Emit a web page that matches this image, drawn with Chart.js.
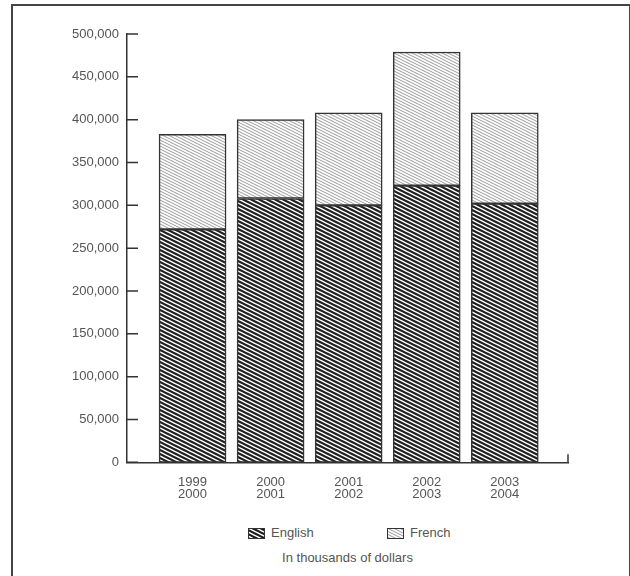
<!DOCTYPE html>
<html lang="en">
<head>
<meta charset="UTF-8">
<title>English and French spending</title>
<style>
    body {
        margin: 0;
        padding: 0;
        background: #fff;
        font-family: "Liberation Sans", Arial, sans-serif;
        color: #555;
    }
    .page {
        position: relative;
        width: 630px;
        height: 576px;
        overflow: hidden;
    }
    .frame {
        position: absolute;
        left: 11px;
        top: 4px;
        width: 616px;
        height: 600px;
        border: 2px solid #444;
        border-bottom: none;
    }
    .chart-box {
        position: absolute;
        left: 0;
        top: 0;
        width: 630px;
        height: 519px;
    }
    .legend-item {
        position: absolute;
        top: 526px;
        font-size: 13px;
        line-height: 14px;
        display: flex;
        align-items: center;
    }
    .legend-item canvas {
        margin-right: 6px;
    }
    .note {
        position: absolute;
        top: 551px;
        left: 127px;
        width: 441px;
        text-align: center;
        font-size: 13px;
        line-height: 14px;
    }
</style>
</head>
<body>
<div class="page">
    <div class="frame"></div>
    <div class="chart-box"><canvas id="chart"></canvas></div>
    <div class="legend-item" id="legEnglish" style="left:248px"></div>
    <div class="legend-item" id="legFrench" style="left:387px"></div>
    <div class="note">In thousands of dollars</div>
</div>
<script src="https://cdn.jsdelivr.net/npm/chart.js"></script>
<script>
// data (thousands of dollars)
const periods = [['1999', '2000'], ['2000', '2001'], ['2001', '2002'], ['2002', '2003'], ['2003', '2004']];
const english = [272000, 308000, 300000, 323000, 302000];
const french = [111000, 92000, 108000, 156000, 106000];
const seriesNames = ['English', 'French'];

// hatch patterns, lines falling to the right with slope 1/2
function hatch(w, h, bg, fg, lw) {
    const c = document.createElement('canvas');
    c.width = w;
    c.height = h;
    const g = c.getContext('2d');
    g.fillStyle = bg;
    g.fillRect(0, 0, w, h);
    g.strokeStyle = fg;
    g.lineWidth = lw;
    g.beginPath();
    for (let k = -3; k <= 3; k++) {
        g.moveTo(-w, k * h - w / 2);
        g.lineTo(2 * w, k * h + w);
    }
    g.stroke();
    return c;
}
const englishTile = hatch(8, 4, '#1e1e1e', '#ffffff', 1.5);
const frenchTile = hatch(6, 3, '#ffffff', '#9a9a9a', 1);

const ctx = document.getElementById('chart').getContext('2d');
const englishFill = ctx.createPattern(englishTile, 'repeat');
const frenchFill = ctx.createPattern(frenchTile, 'repeat');

// inward y ticks and the small mark at the end of the x axis
const axisMarks = {
    id: 'axisMarks',
    afterDraw(chart) {
        const c = chart.ctx;
        const y = chart.scales.y;
        const area = chart.chartArea;
        c.save();
        c.strokeStyle = '#333';
        c.lineWidth = 1.5;
        c.beginPath();
        y.ticks.forEach(t => {
            const py = y.getPixelForValue(t.value);
            c.moveTo(area.left, py);
            c.lineTo(area.left + 11, py);
        });
        c.moveTo(area.right, area.bottom);
        c.lineTo(area.right, area.bottom - 8);
        c.stroke();
        c.restore();
    }
};

const chart = new Chart(ctx, {
    type: 'bar',
    data: {
        datasets: [
            {
                label: seriesNames[0],
                data: english.map((v, i) => ({x: i, y: v})),
                backgroundColor: englishFill,
                borderColor: '#333',
                borderWidth: 1.5,
                borderSkipped: false,
                barThickness: 67
            },
            {
                label: seriesNames[1],
                data: french.map((v, i) => ({x: i, y: v})),
                backgroundColor: frenchFill,
                borderColor: '#333',
                borderWidth: 1.5,
                borderSkipped: false,
                barThickness: 67
            }
        ]
    },
    options: {
        responsive: true,
        maintainAspectRatio: false,
        animation: false,
        layout: {
            padding: {left: 12, top: 34, right: 62, bottom: 4}
        },
        plugins: {
            legend: {display: false},
            tooltip: {enabled: false}
        },
        scales: {
            x: {
                type: 'linear',
                stacked: true,
                offset: false,
                min: -0.84,
                max: 4.81,
                afterBuildTicks: scale => {
                    scale.ticks = periods.map((p, i) => ({value: i}));
                },
                ticks: {
                    autoSkip: false,
                    maxRotation: 0,
                    padding: 14,
                    color: '#555',
                    font: {family: '"Liberation Sans", Arial, sans-serif', size: 13, lineHeight: 0.95},
                    callback: value => periods[value]
                },
                grid: {display: false, drawTicks: false, offset: false},
                border: {display: true, color: '#333', width: 1.5}
            },
            y: {
                stacked: true,
                min: 0,
                max: 500000,
                afterFit: scale => {
                    scale.width = 115;
                },
                ticks: {
                    stepSize: 50000,
                    padding: 8,
                    color: '#555',
                    font: {family: '"Liberation Sans", Arial, sans-serif', size: 13},
                    callback: value => value.toLocaleString('en-US')
                },
                grid: {display: false, drawTicks: false},
                border: {display: true, color: '#333', width: 1.5}
            }
        }
    },
    plugins: [axisMarks]
});

// legend swatches
function legendItem(id, tile, text) {
    const sw = document.createElement('canvas');
    sw.width = 17;
    sw.height = 11;
    const g = sw.getContext('2d');
    g.fillStyle = g.createPattern(tile, 'repeat');
    g.fillRect(0, 0, 17, 11);
    g.strokeStyle = '#333';
    g.lineWidth = 1;
    g.strokeRect(0.5, 0.5, 16, 10);
    const el = document.getElementById(id);
    el.appendChild(sw);
    el.appendChild(document.createTextNode(text));
}
legendItem('legEnglish', englishTile, seriesNames[0]);
legendItem('legFrench', frenchTile, seriesNames[1]);
</script>
</body>
</html>
